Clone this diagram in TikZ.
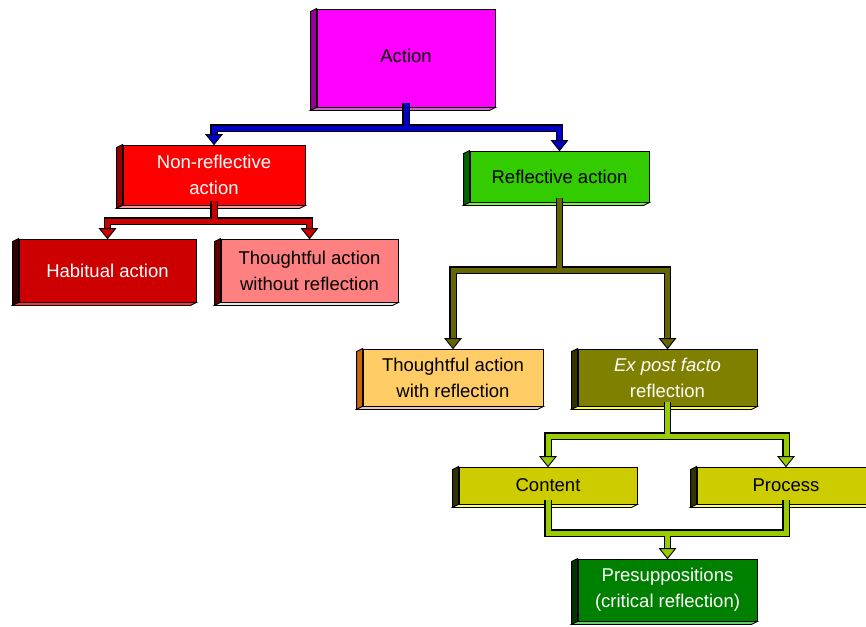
\documentclass[tikz,border=0pt]{standalone}
\usepackage{fontspec}
\setmainfont{Liberation Sans}
\usetikzlibrary{calc}

% face colours
\definecolor{actF}{HTML}{FF00FF}\definecolor{actS}{HTML}{990099}\definecolor{actB}{HTML}{CC66CC}
\definecolor{nrF}{HTML}{FF0000}\definecolor{nrS}{HTML}{990000}\definecolor{nrB}{HTML}{FF9999}
\definecolor{habF}{HTML}{CC0000}\definecolor{habS}{HTML}{330000}\definecolor{habB}{HTML}{FF3333}
\definecolor{twoF}{HTML}{FF8080}\definecolor{twoS}{HTML}{660000}\definecolor{twoB}{HTML}{E6E6E6}
\definecolor{refF}{HTML}{33CC00}\definecolor{refS}{HTML}{006600}\definecolor{refB}{HTML}{66FF33}
\definecolor{twF}{HTML}{FFCC66}\definecolor{twS}{HTML}{CC6600}\definecolor{twB}{HTML}{E6C8C8}
\definecolor{expF}{HTML}{808000}\definecolor{expS}{HTML}{333300}\definecolor{expB}{HTML}{FFFF33}
\definecolor{conF}{HTML}{CCCC00}\definecolor{conS}{HTML}{333300}\definecolor{conB}{HTML}{FFFF66}
\definecolor{preF}{HTML}{008000}\definecolor{preS}{HTML}{003300}\definecolor{preB}{HTML}{66CC66}
% connector colours
\definecolor{pBlue}{HTML}{0000CC}
\definecolor{pRed}{HTML}{CC0000}
\definecolor{pOlive}{HTML}{666600}
\definecolor{pLime}{HTML}{99CC00}

\tikzset{
  box/.style={draw=black, line width=0.9pt, inner sep=0pt, align=center,
    font=\fontsize{18.5}{26}\selectfont},
  face/.style={draw=black, line width=0.9pt, line join=miter},
}

% side and bottom faces of a raised box
\newcommand\raised[3]{%
  \filldraw[face, fill=#2] (#1.north west) -- ++(-6,3) -- ($(#1.south west)+(-6,3)$) -- (#1.south west) -- cycle;
  \filldraw[face, fill=#3] (#1.south west) -- ++(-6,3) -- ($(#1.south east)+(-6,3)$) -- (#1.south east) -- cycle;}
% outlined thick connector
\newcommand\pipe[2]{%
  \draw[line width=7.5pt, black, line join=miter] #2;
  \draw[line width=5pt, #1, line join=miter] #2;}
% arrow head ending on a node anchor
\newcommand\tip[2]{%
  \filldraw[face, fill=#1] ($(#2)+(-8,-10)$) -- ($(#2)+(8,-10)$) -- (#2) -- cycle;}

\begin{document}
\begin{tikzpicture}[x=1pt, y=-1pt]
\useasboundingbox (0,0) rectangle (866,626);
\clip (0,0) rectangle (866,626);

% boxes
\node[box, fill=actF, minimum width=178pt, minimum height=98pt] (act) at (406,58) {\raisebox{5pt}{Action}};
\raised{act}{actS}{actB}
\node[box, fill=nrF, text=white, minimum width=182pt, minimum height=60pt] (nonref) at (214,175) {Non-reflective\\action};
\raised{nonref}{nrS}{nrB}
\node[box, fill=habF, text=white, minimum width=177pt, minimum height=63pt] (hab) at (107.5,270.5) {Habitual action};
\raised{hab}{habS}{habB}
\node[box, fill=twoF, minimum width=177pt, minimum height=63pt] (thwo) at (309.5,270.5) {Thoughtful action\\without reflection};
\raised{thwo}{twoS}{twoB}
\node[box, fill=refF, minimum width=179pt, minimum height=51pt] (refl) at (559.5,176.5) {Reflective action};
\raised{refl}{refS}{refB}
\node[box, fill=twF, minimum width=180pt, minimum height=57pt] (thw) at (453,377.5) {Thoughtful action\\with reflection};
\raised{thw}{twS}{twB}
\node[box, fill=expF, text=white, minimum width=179pt, minimum height=57pt] (expf) at (667.5,377.5) {\textit{Ex post facto}\\reflection};
\raised{expf}{expS}{expB}
\node[box, fill=conF, minimum width=178pt, minimum height=37pt] (cont) at (548,485.5) {Content};
\raised{cont}{conS}{conB}
\node[box, fill=conF, minimum width=178pt, minimum height=37pt] (proc) at (786,485.5) {Process};
\raised{proc}{conS}{conB}
\node[box, fill=preF, text=white, minimum width=179pt, minimum height=62pt] (pres) at (667.5,590) {Presuppositions\\(critical reflection)};
\raised{pres}{preS}{preB}

% junction points
\coordinate (jA) at (406,128);
\coordinate (jN) at (214,221);
\coordinate (jR) at (559.5,270);
\coordinate (jE) at (667.5,436);
\coordinate (jP) at (667.5,533);

% connectors
\pipe{pBlue}{($(act.south)+(0,-4)$) -- (jA) (jA) -| ($(nonref.north)+(0,-9)$) (jA) -| ($(refl.north)+(0,-9)$)}
\tip{pBlue}{nonref.north}\tip{pBlue}{refl.north}

\pipe{pRed}{($(nonref.south)+(0,-4)$) -- (jN) (jN) -| ($(hab.north)+(0,-9)$) (jN) -| ($(thwo.north)+(0,-9)$)}
\tip{pRed}{hab.north}\tip{pRed}{thwo.north}

\pipe{pOlive}{($(refl.south)+(0,-4)$) -- (jR) (jR) -| ($(thw.north)+(0,-9)$) (jR) -| ($(expf.north)+(0,-9)$)}
\tip{pOlive}{thw.north}\tip{pOlive}{expf.north}

\pipe{pLime}{($(expf.south)+(0,-4)$) -- (jE) (jE) -| ($(cont.north)+(0,-9)$) (jE) -| ($(proc.north)+(0,-9)$)}
\tip{pLime}{cont.north}\tip{pLime}{proc.north}

\pipe{pLime}{($(cont.south)+(0,-4)$) |- (jP) ($(proc.south)+(0,-4)$) |- (jP) (jP) -- ($(pres.north)+(0,-9)$)}
\tip{pLime}{pres.north}
\end{tikzpicture}
\end{document}
